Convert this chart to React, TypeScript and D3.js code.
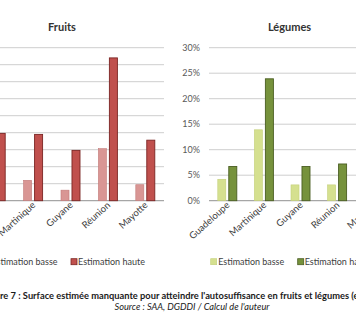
import React from "react";
import * as d3 from "d3";

const categories = ["Guadeloupe", "Martinique", "Guyane", "Réunion", "Mayotte"];
const seriesNames = ["Estimation basse", "Estimation haute"];
const fruitsBasse = [0.08, 0.06, 0.031, 0.153, 0.047];
const fruitsHaute = [0.198, 0.195, 0.148, 0.42, 0.178];
const legumesBasse = [0.042, 0.139, 0.031, 0.031, 0.02];
const legumesHaute = [0.067, 0.239, 0.067, 0.072, 0.05];
const fruitTicks = [0, 0.05, 0.1, 0.15, 0.2, 0.25, 0.3, 0.35, 0.4, 0.45];
const legumeTicks = [0, 0.05, 0.1, 0.15, 0.2, 0.25, 0.3];
const captionHead = "Figu";
const captionRest = "re 7 : Surface estimée manquante pour atteindre l'autosuffisance en fruits et légumes (en %)";
const sourceText = "Source : SAA, DGDDI / Calcul de l'auteur";

const FONT = "Lato, 'Open Sans', sans-serif";

type PanelProps = {
  title: string;
  titleX: number;
  x0: number;
  x1: number;
  maxY: number;
  ticks: number[];
  showTickLabels: boolean;
  basse: number[];
  haute: number[];
  colors: { basse: string; basseStroke: string; haute: string; hauteStroke: string };
};

function Panel(p: PanelProps) {
  const top = 47.7;
  const bottom = 200.7;
  const x = d3.scaleBand<string>().domain(categories).range([p.x0, p.x1]).paddingInner(0).paddingOuter(0);
  const bw = x.bandwidth();
  const xs = d3
    .scaleBand<string>()
    .domain(seriesNames)
    .range([bw / 2 - 9.5, bw / 2 + 9.5])
    .paddingInner(0.27)
    .paddingOuter(0);
  const y = d3.scaleLinear().domain([0, p.maxY]).range([bottom, top]);
  const fmt = d3.format(".0%");
  return (
    <g>
      <text x={p.titleX} y={31} textAnchor="middle" fontFamily={FONT} fontWeight="bold" fontSize={11} fill="#333">
        {p.title}
      </text>
      {p.ticks.map((t) => (
        <g key={t}>
          <line
            x1={p.x0}
            x2={p.x1}
            y1={y(t)}
            y2={y(t)}
            stroke={t === 0 ? "#a6a6a6" : "#c8c8c8"}
            strokeWidth={t === 0 ? 1.2 : 0.9}
          />
          {p.showTickLabels && (
            <text x={p.x0 - 9} y={y(t) + 3.2} textAnchor="end" fontFamily={FONT} fontSize={9} fill="#595959">
              {fmt(t)}
            </text>
          )}
        </g>
      ))}
      {categories.map((c, i) => {
        const bx = x(c) as number;
        return (
          <g key={c}>
            <rect
              x={bx + (xs(seriesNames[0]) as number)}
              y={y(p.basse[i])}
              width={xs.bandwidth()}
              height={bottom - y(p.basse[i])}
              fill={p.colors.basse}
              stroke={p.colors.basseStroke}
              strokeWidth={0.6}
            />
            <rect
              x={bx + (xs(seriesNames[1]) as number)}
              y={y(p.haute[i])}
              width={xs.bandwidth()}
              height={bottom - y(p.haute[i])}
              fill={p.colors.haute}
              stroke={p.colors.hauteStroke}
              strokeWidth={0.9}
            />
            <text
              transform={`translate(${bx + bw / 2 + 3},${206}) rotate(-42)`}
              textAnchor="end"
              fontFamily={FONT}
              fontSize={9.5}
              fill="#404040"
            >
              {c}
            </text>
          </g>
        );
      })}
    </g>
  );
}

function Legend({ x, y, gap, colors }: { x: number; y: number; gap: number; colors: PanelProps["colors"] }) {
  return (
    <g fontFamily={FONT} fontSize={9.8} fill="#404040">
      <rect x={x} y={y - 3} width={6} height={6} fill={colors.basse} stroke={colors.basseStroke} strokeWidth={0.6} />
      <text x={x + 7.5} y={y + 3.5} textLength={66} lengthAdjust="spacingAndGlyphs">{seriesNames[0]}</text>
      <rect x={x + gap} y={y - 3} width={6} height={6} fill={colors.haute} stroke={colors.hauteStroke} strokeWidth={0.8} />
      <text x={x + gap + 7} y={y + 3.5} textLength={67} lengthAdjust="spacingAndGlyphs">{seriesNames[1]}</text>
    </g>
  );
}

export default function App() {
  const fruitColors = { basse: "#d99694", basseStroke: "#c27a78", haute: "#c0504d", hauteStroke: "#7b2523" };
  const legColors = { basse: "#d5e08f", basseStroke: "#c3cf78", haute: "#76923c", hauteStroke: "#4a5e22" };
  return (
    <svg
      width={356}
      height={335}
      style={{ position: "absolute", left: 0, top: 0, background: "#fff" }}
    >
      <rect x={0} y={0} width={356} height={335} fill="#fff" />
      <Panel
        title="Fruits"
        titleX={62}
        x0={-23}
        x1={164}
        maxY={0.45}
        ticks={fruitTicks}
        showTickLabels={false}
        basse={fruitsBasse}
        haute={fruitsHaute}
        colors={fruitColors}
      />
      <Panel
        title="Légumes"
        titleX={289.5}
        x0={209}
        x1={392}
        maxY={0.3}
        ticks={legumeTicks}
        showTickLabels={true}
        basse={legumesBasse}
        haute={legumesHaute}
        colors={legColors}
      />
      <Legend x={-16} y={261.7} gap={87} colors={fruitColors} />
      <Legend x={210.7} y={261.7} gap={87} colors={legColors} />
      <g fontFamily={FONT} fill="#1a1a1a">
        <text x={0} y={299} fontSize={9.3} textAnchor="end" fontWeight="bold">{captionHead}</text>
        <text x={0} y={299} fontSize={9.3} textAnchor="start" fontWeight="bold">{captionRest}</text>
        <text x={192} y={310} fontSize={9.2} textAnchor="middle" fontStyle="italic">{sourceText}</text>
      </g>
    </svg>
  );
}
